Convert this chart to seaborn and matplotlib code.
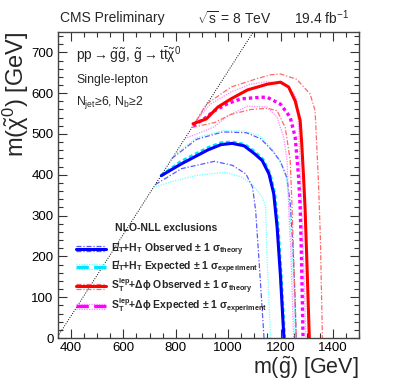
import numpy as np
import pandas as pd
import seaborn as sns
import matplotlib.pyplot as plt
from matplotlib.lines import Line2D
from matplotlib.legend_handler import HandlerBase
from matplotlib.ticker import MultipleLocator

# ---- exclusion contours (m_gluino, m_LSP) in GeV ----
# MET+HT observed / theory band
htobs_x = [745, 822, 923, 973, 1015, 1061, 1100, 1130, 1156, 1174, 1187, 1200, 1206, 1213]
htobs_y = [398, 427, 461, 474, 477, 471, 452, 435, 402, 354, 272, 150, 80, 0]
htobs_up_x = [785, 880, 980, 1070, 1125, 1170, 1200, 1225, 1237, 1247, 1255, 1260]
htobs_up_y = [440, 487, 505, 503, 488, 458, 432, 392, 330, 230, 110, 0]
htobs_dn_x = [722, 822, 948, 1017, 1068, 1093, 1105, 1118, 1137]
htobs_dn_y = [376, 415, 433, 423, 402, 370, 313, 190, 0]
# MET+HT expected / experimental band
htexp_x = [745, 822, 923, 973, 1015, 1063, 1103, 1133, 1159, 1177, 1190, 1202, 1208, 1215]
htexp_y = [398, 433, 466, 478, 480, 474, 455, 437, 403, 354, 272, 150, 80, 0]
htexp_up_x = [790, 880, 980, 1060, 1120, 1165, 1195, 1220, 1233, 1243, 1251, 1256]
htexp_up_y = [446, 491, 508, 507, 496, 465, 438, 398, 335, 230, 110, 0]
htexp_dn_x = [715, 800, 885, 990, 1050, 1093, 1131, 1143, 1149, 1162]
htexp_dn_y = [369, 386, 399, 406, 395, 376, 345, 321, 190, 0]
# ST+dphi observed / theory band
stobs_x = [866, 917, 961, 1011, 1074, 1112, 1149, 1200, 1231, 1256, 1275, 1281, 1288, 1294, 1300, 1310]
stobs_y = [525, 537, 566, 586, 608, 615, 622, 627, 615, 581, 533, 476, 394, 313, 199, 0]
stobs_up_x = [878, 917, 1011, 1112, 1162, 1200, 1262, 1313, 1332, 1338, 1345, 1352, 1360]
stobs_up_y = [532, 573, 615, 636, 645, 647, 634, 598, 557, 476, 380, 250, 0]
stobs_dn_x = [862, 948, 1011, 1087, 1150, 1187, 1218, 1237, 1244, 1250, 1260]
stobs_dn_y = [516, 528, 548, 560, 563, 557, 516, 435, 321, 200, 0]
# ST+dphi expected / experimental band
stexp_x = [866, 910, 948, 1000, 1049, 1124, 1149, 1200, 1237, 1256, 1269, 1275, 1280, 1286]
stexp_y = [520, 538, 557, 575, 586, 590, 590, 573, 541, 492, 394, 321, 200, 0]
stexp_up_x = [878, 930, 1011, 1086, 1150, 1200, 1225, 1250, 1262, 1269, 1275, 1282, 1290, 1297]
stexp_up_y = [532, 572, 603, 622, 628, 624, 618, 600, 585, 516, 420, 300, 150, 0]
stexp_dn_x = [835, 900, 948, 1000, 1074, 1149, 1187, 1212, 1225, 1231, 1240, 1250]
stexp_dn_y = [489, 505, 518, 545, 568, 566, 541, 492, 435, 321, 200, 0]

m_top = 173.0
x_range = [350, 1500]
y_range = [0, 750]

leg_labels = [
    "E\u0338$_T$+H$_T$ Observed \u00b1 1 \u03c3$_{theory}$",
    "E\u0338$_T$+H$_T$ Expected \u00b1 1 \u03c3$_{experiment}$",
    "S$_T^{lep}$+\u0394\u03d5 Observed \u00b1 1 \u03c3$_{theory}$",
    "S$_T^{lep}$+\u0394\u03d5 Expected \u00b1 1 \u03c3$_{experiment}$",
]

sns.set_theme(style="ticks")
plt.rcParams['font.family'] = ['Liberation Sans', 'DejaVu Sans']
plt.rcParams['mathtext.fontset'] = 'custom'
plt.rcParams['mathtext.rm'] = 'Liberation Sans'
plt.rcParams['mathtext.it'] = 'Liberation Sans:italic'
plt.rcParams['mathtext.bf'] = 'Liberation Sans:bold'
plt.rcParams['mathtext.default'] = 'regular'

fig = plt.figure(figsize=(3.99, 3.85), dpi=100)
ax = fig.add_axes([0.145, 0.122, 0.755, 0.795])

# styles: (colour, width, dash)
main_style = {
    'htobs': dict(color='#0000ff', lw=2.2, ls='-'),
    'htexp': dict(color='#00e5ff', lw=2.4, ls=(0, (1.2, 0.8))),
    'stobs': dict(color='#ff0000', lw=2.2, ls='-'),
    'stexp': dict(color='#ff00ff', lw=2.4, ls=(0, (1.0, 0.9))),
}
band_style = {
    'htobs': dict(color='#5a5aff', lw=0.9, ls=(0, (4, 1.5, 1, 1.5))),
    'htexp': dict(color='#70ffff', lw=0.9, ls=(0, (1, 1))),
    'stobs': dict(color='#ff6a6a', lw=0.9, ls=(0, (4, 1.5, 1, 1.5))),
    'stexp': dict(color='#ff88ff', lw=0.9, ls=(0, (1, 1))),
}

curves = {
    'htobs': ((htobs_x, htobs_y), (htobs_up_x, htobs_up_y), (htobs_dn_x, htobs_dn_y)),
    'htexp': ((htexp_x, htexp_y), (htexp_up_x, htexp_up_y), (htexp_dn_x, htexp_dn_y)),
    'stobs': ((stobs_x, stobs_y), (stobs_up_x, stobs_up_y), (stobs_dn_x, stobs_dn_y)),
    'stexp': ((stexp_x, stexp_y), (stexp_up_x, stexp_up_y), (stexp_dn_x, stexp_dn_y)),
}

# kinematic limit m_LSP = m_gluino - 2 m_top
diag_x = np.array(x_range, dtype=float)
sns.lineplot(x=diag_x, y=diag_x - 2 * m_top, ax=ax, color='black', lw=0.7,
             ls=(0, (1, 1.5)), sort=False, estimator=None, zorder=1)

# bands first, then the central lines on top
for key in ['htexp', 'htobs', 'stexp', 'stobs']:
    for bx, by in curves[key][1:]:
        sns.lineplot(x=bx, y=by, ax=ax, sort=False, estimator=None, zorder=2, **band_style[key])
handles = {}
for key in ['htexp', 'htobs', 'stexp', 'stobs']:
    cx, cy = curves[key][0]
    sns.lineplot(x=cx, y=cy, ax=ax, sort=False, estimator=None, zorder=3, **main_style[key])
    handles[key] = ax.lines[-1]

ax.set_xlim(*x_range)
ax.set_ylim(*y_range)
ax.xaxis.set_major_locator(MultipleLocator(200))
ax.xaxis.set_minor_locator(MultipleLocator(50))
ax.yaxis.set_major_locator(MultipleLocator(100))
ax.yaxis.set_minor_locator(MultipleLocator(20))
ax.tick_params(which='both', direction='in', top=True, right=True, colors='#333333',
               labelcolor='black', labelsize=9.5, pad=3)
ax.tick_params(which='major', length=6.5, width=0.8)
ax.tick_params(which='minor', length=3.3, width=0.8)
for s in ax.spines.values():
    s.set_color('#444444')
    s.set_linewidth(1.0)

ax.set_xlabel(r"m($\tilde{g}$) [GeV]", fontsize=15.5, loc='right')
ax.xaxis.set_label_coords(1.0, -0.056)
ax.set_ylabel(r"m($\tilde{\chi}^0$) [GeV]", fontsize=17, loc='top')
ax.yaxis.set_label_coords(-0.09, 1.0)


class BandHandler(HandlerBase):
    def __init__(self, band):
        super().__init__()
        self.band = band

    def create_artists(self, legend, orig_handle, xdescent, ydescent, width, height, fontsize, trans):
        y = height / 2 - ydescent
        x0, x1 = -xdescent, width - xdescent
        out = []
        for off in (1.9, -1.9):
            ln = Line2D([x0, x1], [y + off, y + off], color=self.band['color'], lw=0.9,
                        ls=self.band['ls'])
            ln.set_transform(trans)
            out.append(ln)
        m = Line2D([x0, x1], [y, y], color=orig_handle.get_color(), lw=orig_handle.get_linewidth(),
                   ls=orig_handle.get_linestyle())
        m.set_transform(trans)
        out.append(m)
        return out


order = ['htobs', 'htexp', 'stobs', 'stexp']
leg = ax.legend([handles[k] for k in order], leg_labels,
                handler_map={handles[k]: BandHandler(band_style[k]) for k in order},
                loc='upper left', bbox_to_anchor=(0.06, 0.318), frameon=False,
                borderpad=0, borderaxespad=0, handlelength=2.9, handletextpad=0.45,
                labelspacing=0.05, prop=dict(family=['Liberation Sans', 'DejaVu Sans'],
                                             weight='bold', size=7.5))
ax.text(0.189, 0.359, "NLO-NLL exclusions", transform=ax.transAxes, fontsize=7.5,
        fontweight='bold', va='center', ha='left')

ax.text(0.06, 0.925, r"pp$\rightarrow\tilde{g}\tilde{g}$, $\tilde{g}\rightarrow t\bar{t}\tilde{\chi}^0$",
        transform=ax.transAxes, fontsize=10, va='center', ha='left')
ax.text(0.06, 0.843, "Single-lepton", transform=ax.transAxes, fontsize=8.8, va='center', ha='left')
ax.text(0.06, 0.768, r"N$_{jet}$≥6, N$_b$≥2", transform=ax.transAxes, fontsize=8.8,
        va='center', ha='left')

fig.text(0.150, 0.953, "CMS Preliminary", fontsize=10, va='center', ha='left')
fig.text(0.494, 0.953, r"$\sqrt{s}$ = 8 TeV", fontsize=10, va='center', ha='left')
fig.text(0.875, 0.953, r"19.4 fb$^{-1}$", fontsize=10, va='center', ha='right')

fig.savefig("out.png", dpi=100)
